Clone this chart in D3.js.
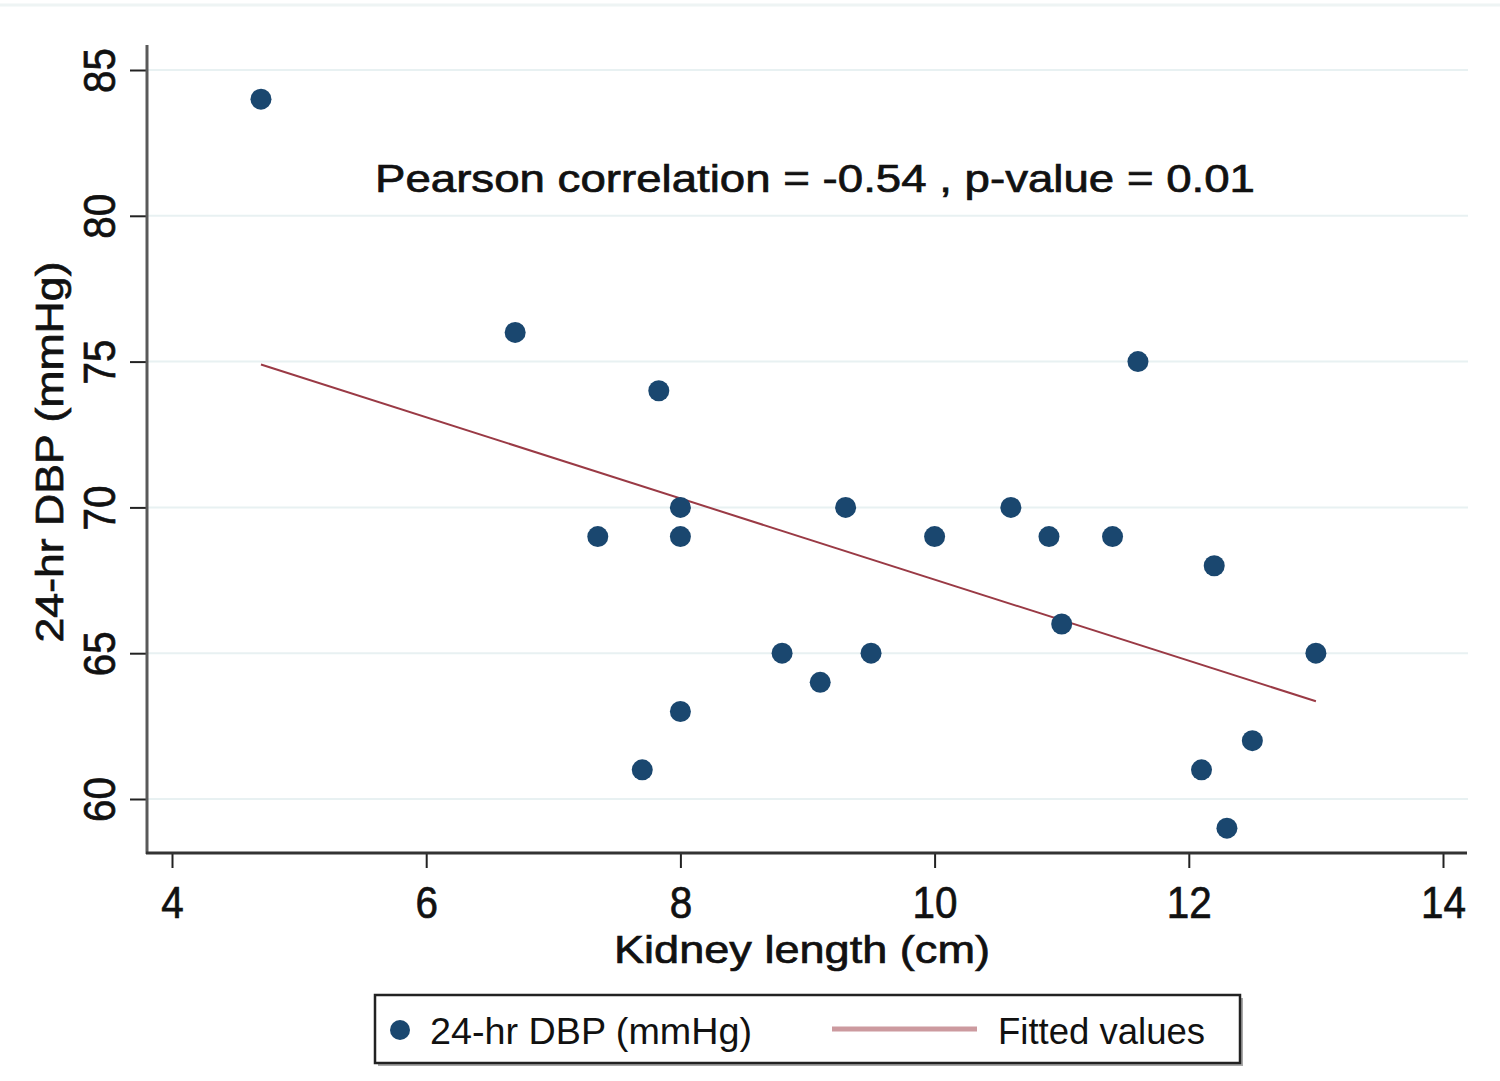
<!DOCTYPE html>
<html>
<head>
<meta charset="utf-8">
<script src="https://cdn.jsdelivr.net/npm/d3@7"></script>
<style>
  body { margin: 0; background: #fff; }
  text { font-family: "Liberation Sans", Arial, sans-serif; fill: #111; }
  .heavy { stroke: #111; stroke-width: 0.7px; }
</style>
</head>
<body>
<svg id="chart" width="1500" height="1081"></svg>
<script>
// data
const kidneyLength = [4.7, 6.7, 7.83, 7.35, 8.0, 8.0, 8.0, 7.7, 8.8, 9.1, 9.3, 9.5,
  10.0, 10.6, 10.9, 11.0, 11.4, 11.6, 12.2, 12.1, 12.3, 12.5, 13.0];
const dbp = [84, 76, 74, 69, 70, 69, 63, 61, 65, 64, 70, 65,
  69, 70, 69, 66, 69, 75, 68, 61, 59, 62, 65];
const fitX = [4.7, 13.0];
const fitY = [74.9, 63.35];
const xTicks = [4, 6, 8, 10, 12, 14];
const yTicks = [60, 65, 70, 75, 80, 85];

const svg = d3.select("#chart");
const dotColor = "#1a476f", fitColor = "#9a3a45";

const x = d3.scaleLinear().domain([4, 14]).range([172, 1443]);
const y = d3.scaleLinear().domain([60, 85]).range([799, 70]);

// faint frame line at the top
svg.append("line")
    .attr("x1", 0).attr("x2", 1500).attr("y1", 5).attr("y2", 5)
    .attr("stroke", "#eef4f4").attr("stroke-width", 3);

// gridlines
svg.append("g").selectAll("line")
    .data(yTicks)
    .join("line")
    .attr("x1", 147).attr("x2", 1468)
    .attr("y1", d => y(d)).attr("y2", d => y(d))
    .attr("stroke", "#e8f1f2").attr("stroke-width", 2);

// y axis
const yAxis = svg.append("g")
    .attr("transform", "translate(147,0)")
    .call(d3.axisLeft(y).tickValues(yTicks).tickSize(17).tickFormat(d3.format("d")));
yAxis.select(".domain").remove();
yAxis.selectAll(".tick line").attr("stroke", "#222").attr("stroke-width", 2);
yAxis.selectAll(".tick text")
    .attr("class", "heavy")
    .attr("font-size", 45)
    .attr("fill", "#111")
    .attr("text-anchor", "middle")
    .attr("x", 0).attr("dy", 0)
    .attr("textLength", 45).attr("lengthAdjust", "spacingAndGlyphs")
    .attr("transform", "translate(-32,0) rotate(-90)");
svg.append("line")
    .attr("x1", 147).attr("x2", 147).attr("y1", 45).attr("y2", 854)
    .attr("stroke", "#5a5a5a").attr("stroke-width", 3);

// x axis
const xAxis = svg.append("g")
    .attr("transform", "translate(0,853)")
    .call(d3.axisBottom(x).tickValues(xTicks).tickSize(15).tickFormat(d3.format("d")));
xAxis.select(".domain").remove();
xAxis.selectAll(".tick line").attr("stroke", "#222").attr("stroke-width", 2);
xAxis.selectAll(".tick text")
    .attr("class", "heavy")
    .attr("font-size", 45)
    .attr("fill", "#111")
    .attr("y", 65).attr("dy", 0)
    .attr("textLength", d => String(d).length * 22.5)
    .attr("lengthAdjust", "spacingAndGlyphs");
svg.append("line")
    .attr("x1", 146).attr("x2", 1467).attr("y1", 853).attr("y2", 853)
    .attr("stroke", "#333").attr("stroke-width", 3);

// fitted line
svg.append("path")
    .datum(d3.zip(fitX, fitY))
    .attr("d", d3.line().x(d => x(d[0])).y(d => y(d[1])))
    .attr("fill", "none")
    .attr("stroke", fitColor)
    .attr("stroke-width", 2);

// points
svg.append("g").selectAll("circle")
    .data(d3.zip(kidneyLength, dbp))
    .join("circle")
    .attr("cx", d => x(d[0]))
    .attr("cy", d => y(d[1]))
    .attr("r", 10.5)
    .attr("fill", dotColor);

// annotation
svg.append("text")
    .attr("class", "heavy")
    .attr("x", 815).attr("y", 192)
    .attr("text-anchor", "middle")
    .attr("font-size", 38)
    .attr("textLength", 880).attr("lengthAdjust", "spacingAndGlyphs")
    .text("Pearson correlation = -0.54 , p-value = 0.01");

// axis titles
svg.append("text")
    .attr("class", "heavy")
    .attr("x", 802).attr("y", 963)
    .attr("text-anchor", "middle")
    .attr("font-size", 39)
    .attr("textLength", 376).attr("lengthAdjust", "spacingAndGlyphs")
    .text("Kidney length (cm)");

svg.append("text")
    .attr("class", "heavy")
    .attr("transform", "translate(63,452) rotate(-90)")
    .attr("text-anchor", "middle")
    .attr("font-size", 38)
    .attr("textLength", 381).attr("lengthAdjust", "spacingAndGlyphs")
    .text("24-hr DBP (mmHg)");

// legend
const legend = svg.append("g");
legend.append("rect")
    .attr("x", 378).attr("y", 998).attr("width", 865).attr("height", 68)
    .attr("fill", "#a8a8a8");
legend.append("rect")
    .attr("x", 375).attr("y", 995).attr("width", 865).attr("height", 68)
    .attr("fill", "#fff").attr("stroke", "#222").attr("stroke-width", 2.5);
legend.append("circle")
    .attr("cx", 400).attr("cy", 1030).attr("r", 10).attr("fill", dotColor);
legend.append("text")
    .attr("x", 430).attr("y", 1044)
    .attr("font-size", 36)
    .attr("textLength", 322).attr("lengthAdjust", "spacingAndGlyphs")
    .text("24-hr DBP (mmHg)");
legend.append("line")
    .attr("x1", 832).attr("x2", 977).attr("y1", 1029).attr("y2", 1029)
    .attr("stroke", "#cc9a9f").attr("stroke-width", 5);
legend.append("text")
    .attr("x", 998).attr("y", 1044)
    .attr("font-size", 36)
    .attr("textLength", 207).attr("lengthAdjust", "spacingAndGlyphs")
    .text("Fitted values");
</script>
</body>
</html>
